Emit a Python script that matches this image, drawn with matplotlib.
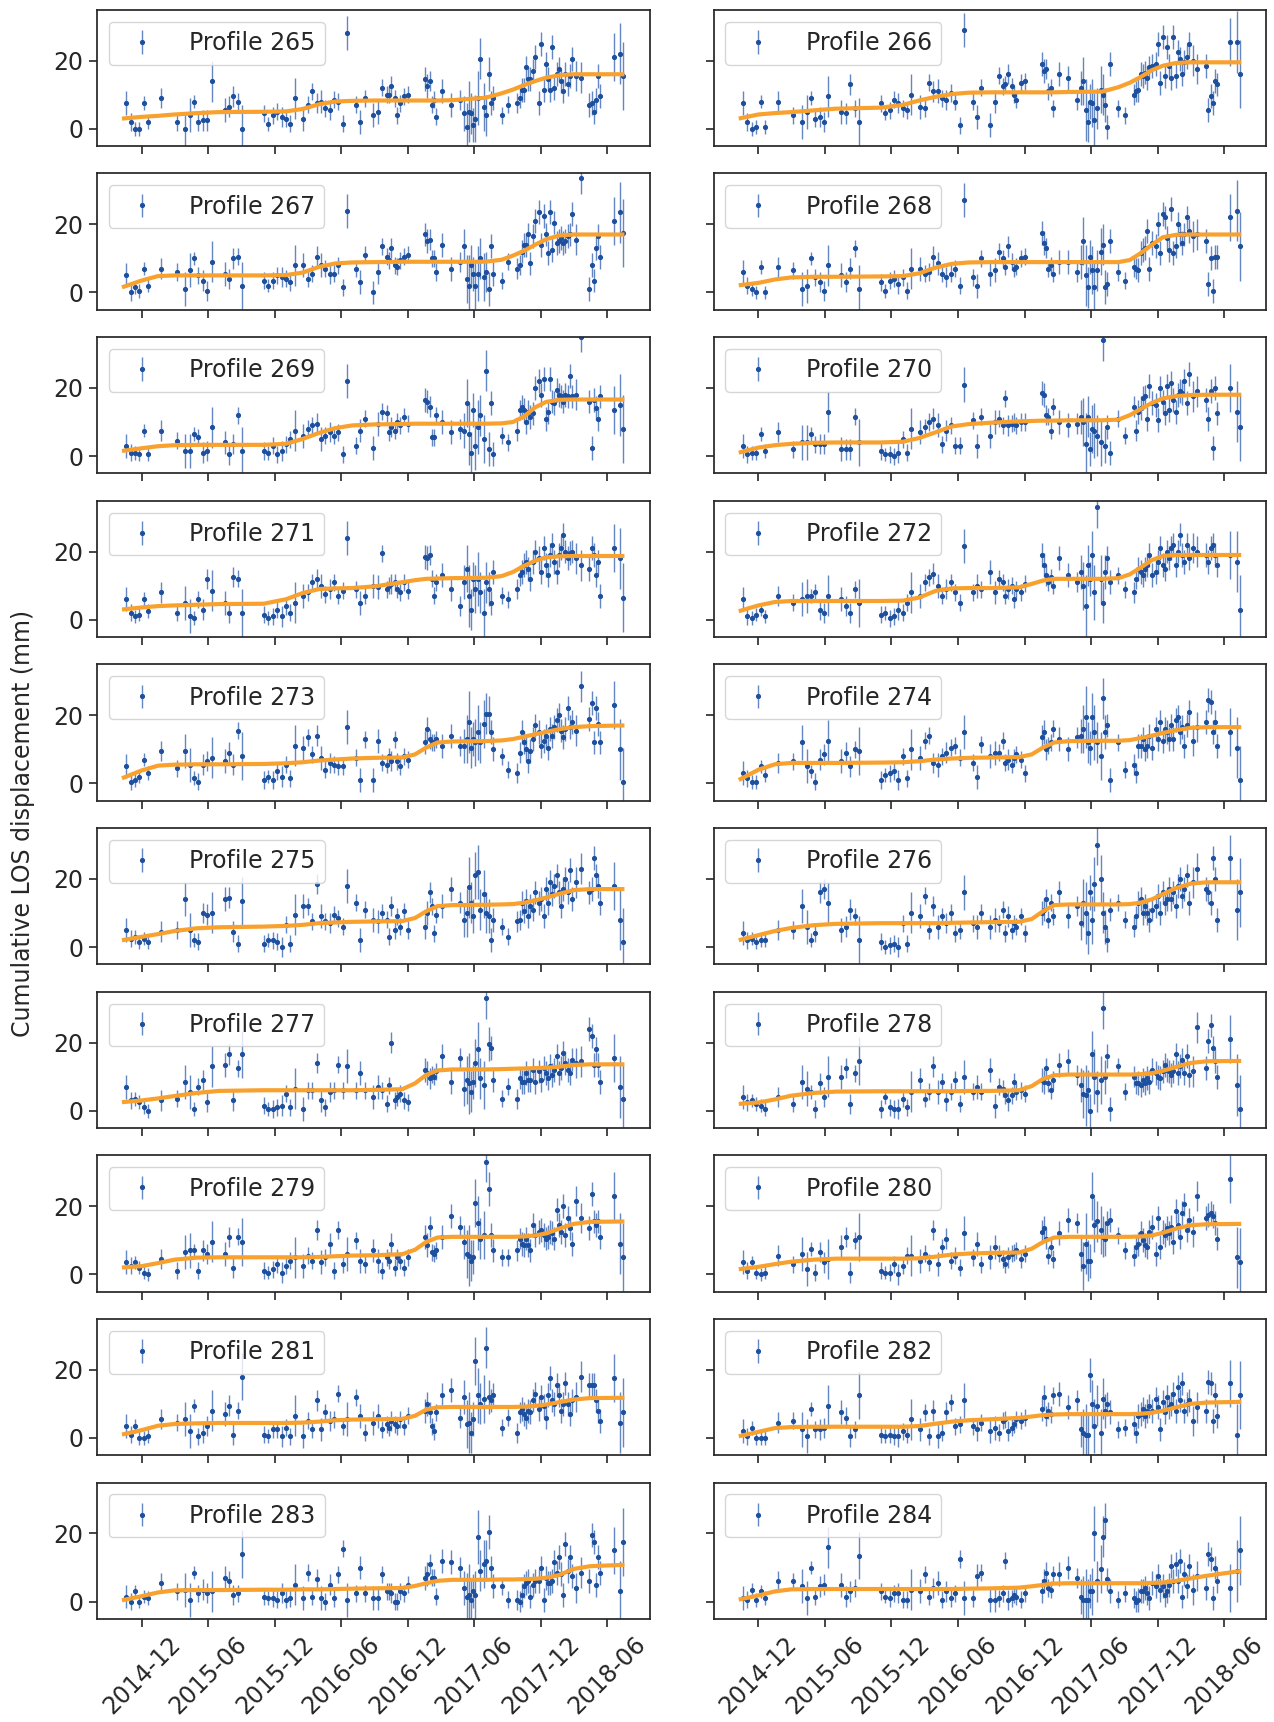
import numpy as np
import matplotlib
matplotlib.use("Agg")
import matplotlib.pyplot as plt
import matplotlib.dates as mdates

plt.rcParams['font.family'] = ['DejaVu Sans']

# acquisition dates (shared by all profiles)
dates = (["2014-10-20", "2014-11-01", "2014-11-13", "2014-11-25", "2014-12-07", "2014-12-19"]
         + ["2015-01-24", "2015-03-07", "2015-03-31", "2015-04-12", "2015-04-24", "2015-05-06", "2015-05-18", "2015-05-30", "2015-06-11"]
         + ["2015-07-17", "2015-07-29", "2015-08-10", "2015-08-22", "2015-09-03"]
         + ["2015-11-02", "2015-11-14", "2015-11-26", "2015-12-08", "2015-12-20", "2016-01-01", "2016-01-13", "2016-01-25"]
         + ["2016-02-18", "2016-03-01", "2016-03-13", "2016-03-25", "2016-04-06", "2016-04-18", "2016-04-30", "2016-05-12", "2016-05-24"]
         + ["2016-06-05", "2016-06-17", "2016-07-11", "2016-07-23", "2016-08-04", "2016-08-28", "2016-09-09", "2016-09-21",
            "2016-10-03", "2016-10-09", "2016-10-15", "2016-10-27", "2016-11-02", "2016-11-08", "2016-11-20", "2016-12-02"]
         + ["2017-01-17", "2017-01-23", "2017-01-29", "2017-02-04", "2017-02-10", "2017-02-16", "2017-03-05", "2017-03-30",
            "2017-04-23", "2017-05-05", "2017-05-11", "2017-05-17", "2017-05-23", "2017-05-29", "2017-06-04", "2017-06-10",
            "2017-06-16", "2017-06-28", "2017-07-04", "2017-07-10", "2017-07-16", "2017-07-22", "2017-08-15", "2017-09-02"]
         + ["2017-09-27", "2017-10-03", "2017-10-09", "2017-10-15", "2017-10-21", "2017-10-27", "2017-11-02", "2017-11-08",
            "2017-11-14", "2017-11-26", "2017-12-02", "2017-12-08", "2017-12-14", "2017-12-20", "2017-12-26"]
         + ["2018-01-01", "2018-01-07", "2018-01-13", "2018-01-19", "2018-01-25", "2018-01-31", "2018-02-06", "2018-02-12",
            "2018-02-18", "2018-02-24", "2018-03-08", "2018-03-20", "2018-04-13", "2018-04-19", "2018-04-25", "2018-05-01",
            "2018-05-07", "2018-05-13", "2018-06-18", "2018-07-06", "2018-07-15"])

# measurement uncertainty (mm), per acquisition
err = ([3.5, 2.5, 2, 2, 2, 2] + [3, 2.5, 5, 5, 2, 2.5, 3, 3, 6] + [3.5, 3, 3, 2.5, 7]
       + [2.5, 2, 2.5, 2.5, 3, 2.5, 2.5, 6] + [3.5, 2.5, 2.5, 3, 3.5, 2.5, 3, 2.5, 2.5]
       + [2.5, 5, 2.5, 3.5, 2.5, 3.5, 3.5, 2.5, 2.5, 2.5, 3, 2.5, 2.5, 2.5, 2.5, 2.5]
       + [3.5, 3.5, 3, 2.5, 2.5, 2.5, 3.5, 3.5, 3, 5, 7, 9, 6, 5, 7, 8, 6, 7, 6, 5, 3.5, 3.5, 2.5, 2.5]
       + [3, 3, 3.5, 3.5, 3.5, 3.5, 3.5, 3.5, 3.5, 3.5, 3.5, 3.5, 3.5, 3.5, 3.5]
       + [3.5, 3.5, 3.5, 3.5, 3.5, 3.5, 3.5, 3.5, 3.5, 3.5, 4.5, 4.5, 3.5, 3.5, 3.5, 3.5, 3.5, 3.5, 7, 9, 10])

# cumulative LOS displacement (mm) per profile
v265 = ([7.5, 2, 0, 0, 7.5, 2] + [9, 2, 0, 4, 8, 2, 2.5, 2.5, 14] + [5.5, 6.5, 9.5, 8, 0] + [4.5, 1.5, 4, 5, 3.5, 3, 1.5, 9]
        + [3, 7, 11, 7.5, 8, 6, 5.5, 8.5, 8] + [1.5, 28, 7, 2, 9, 4, 5, 12, 10, 10, 12.5, 9, 4, 7.5, 9.5, 10]
        + [14.5, 12.5, 14, 7, 8.5, 3.5, 11, 7, 8.5, 4.5, 0.5, 5, 4.5, 1, 3, 9, 20.5, 6.5, 4, 16, 7.5, 9, 4, 7]
        + [7.5, 9, 11.5, 11.5, 18, 14.5, 14.5, 17, 21, 7.5, 25, 11.5, 19, 14.5, 11.5]
        + [24, 12, 16, 17.5, 14, 11, 16, 13, 15.5, 20.5, 15.5, 15, 7, 7.5, 5, 8.5, 15.5, 9.5, 21, 22, 15.5])
v266 = ([7.5, 2, 0, 0.5, 8, 0.5] + [8, 4, 2, 5, 9, 3, 3.5, 2, 9.5] + [5, 4.5, 13, 6, 2] + [7.5, 4.5, 5.5, 8.5, 7.5, 6, 5.5, 10]
        + [6.5, 6, 13.5, 11, 11, 9, 8.5, 10.5, 8] + [1, 29, 8, 3.5, 12, 1, 8, 15.5, 12.5, 13, 16, 12.5, 10, 8.5, 13.5, 14]
        + [19, 17, 17.5, 11, 12, 6, 16, 15, 8.5, 12, 14, 5.5, 2, 8, 7.5, 2.5, 6, 11.5, 10, 7, 0.5, 19, 6, 4]
        + [10, 11, 11.5, 16, 15.5, 16.5, 15, 18, 18.5, 19, 25, 13.5, 27, 15.5, 24]
        + [18.5, 15, 27, 15.5, 22.5, 20.5, 16, 19.5, 21, 25, 20, 17.5, 18.5, 5.5, 9.5, 7.5, 14, 13, 25.5, 25.5, 16])
v267 = ([5, 0, 1.5, 0.5, 7, 2] + [7, 6, 1, 6.5, 10, 5, 3.5, 0.5, 9] + [5.5, 4, 10, 10.5, 2] + [3.5, 2, 3.5, 5, 4.5, 4, 3, 8]
        + [8, 4, 5.5, 10.5, 8, 7, 5.5, 5.5, 8] + [1.5, 24, 7, 3, 11, 0, 6, 13.5, 10.5, 9.5, 13, 8, 7.5, 9.5, 10.5, 11]
        + [17, 15, 15.5, 10, 10, 6, 14, 7, 9, 13.5, 4, 2, 8, 5.5, 2, 5.5, 10, 4.5, 6, 1, 13.5, 5.5, 3.5, 9]
        + [7, 8, 12, 14, 14, 17, 8.5, 16.5, 21, 23.5, 14, 22.5, 17, 11.5, 23.5]
        + [12.5, 20.5, 14.5, 15, 16, 14.5, 15, 16.5, 17, 23, 15.5, 33.5, 1, 8, 3.5, 13, 16.5, 10.5, 21, 23.5, 17.5])
v268 = ([6, 2, 1, 0, 7.5, 0] + [7.5, 6.5, 1, 2, 10, 4.5, 3, 0.5, 8] + [5, 3, 7, 13, 1] + [3, 0.5, 3.5, 4, 2.5, 4.5, 0.5, 7]
        + [7, 5.5, 6, 10.5, 8.5, 5.5, 4.5, 5.5, 7] + [2, 27, 4.5, 2, 10, 5.5, 6.5, 12, 10, 7.5, 13.5, 9, 7, 7.5, 10, 10.5]
        + [17.5, 14.5, 13, 7, 8, 5.5, 9, 9, 6, 9, 15, 5, 1.5, 10.5, 6.5, 1.5, 6.5, 12, 14, 1.5, 2.5, 15, 6, 3.5]
        + [7.5, 7, 6.5, 11.5, 12.5, 13, 18, 7, 14.5, 13.5, 20, 11.5, 23, 22, 16]
        + [12.5, 24.5, 11.5, 13.5, 20, 17, 14.5, 17, 22, 18, 16.5, 17, 15, 2.5, 10, 0.5, 10.5, 10.5, 22, 24, 13.5])
v269 = ([3, 1, 1, 0.5, 7.5, 0.5] + [7.5, 4.5, 1.5, 1.5, 6.5, 5.5, 1, 1.5, 8.5] + [4, 0.5, 3.5, 12, 1.5] + [1.5, 1, 3, 0.5, 1.5, 3.5, 5, 7.5]
        + [6, 8, 9, 9.5, 5, 6, 7, 6, 7] + [0.5, 22, 3, 7.5, 11, 2.5, 9.5, 13, 12.5, 7, 8.5, 7.5, 10, 9, 11.5, 9.5]
        + [16.5, 16, 14.5, 5.5, 5.5, 12, 10, 7, 8, 7.5, 15.5, 6.5, 1, 13.5, 3, 8.5, 12, 5, 25, 2, 15.5, 0.5, 6, 4]
        + [7.5, 13.5, 14.5, 13.5, 10, 13, 11.5, 12.5, 20, 22, 18, 22.5, 11, 13, 22.5]
        + [16, 15.5, 19.5, 18, 17.5, 16, 18, 17.5, 23.5, 17.5, 18, 35, 16, 2.5, 16.5, 14, 11, 17.5, 13.5, 15, 8])
v270 = ([3, 0.5, 1, 1, 6.5, 1.5] + [7, 2, 4, 4, 6.5, 3.5, 3.5, 3.5, 13] + [2, 2, 2, 11.5, 4] + [1.5, 0.5, 0.5, 0, 1, 5, 1, 8]
        + [7, 8.5, 10, 11, 9, 3.5, 7.5, 9, 3] + [3, 21, 10.5, 3, 11.5, 6, 10, 11, 9, 17, 9, 9.5, 10, 9, 10, 10]
        + [18.5, 18, 12, 11.5, 7.5, 14.5, 10, 9, 9.5, 11.5, 10, 3.5, 11.5, 2, 8, 7.5, 6, 4, 34, 3, 8.5, 1, 11, 6]
        + [14.5, 7.5, 13, 14, 17, 17.5, 11, 20.5, 15.5, 15, 10.5, 20, 16, 12.5, 20.5]
        + [13.5, 21.5, 16.5, 13, 18, 19, 18.5, 22, 15.5, 24, 17.5, 19, 16.5, 11, 19, 2.5, 20, 12.5, 20, 13, 8.5])
v271 = ([6, 2, 1, 1.5, 6, 2.5] + [8, 2, 5, 1, 0.5, 6, 3, 12, 8.5] + [5, 2, 12.5, 12, 2] + [1.5, 0.5, 1, 3, 1, 4, 2, 5]
        + [7, 8, 11, 12, 10, 7.5, 9, 11, 7] + [8.5, 24, 9, 5, 7, 10, 9.5, 19.5, 9, 10, 10.5, 11, 9, 8, 11, 8.5]
        + [18.5, 18, 19, 12, 7, 11, 13, 9, 4, 11, 15, 7, 3, 12, 9, 12, 8, 2, 11, 9, 5, 14, 7, 6]
        + [9, 13, 14, 16, 17, 15, 12, 17, 20, 18, 14, 21, 16, 13, 19]
        + [22, 17, 14, 19, 21, 25, 20, 18, 19.5, 20, 18, 16, 15, 21, 19, 13, 17, 7, 21, 18, 6.5])
v272 = ([6, 1, 0.5, 1.5, 3, 1] + [7, 5, 6, 7, 7, 8, 3, 2, 7] + [6, 4, 2, 9, 5] + [1.5, 2, 0.5, 1, 3, 2, 5, 8]
        + [7, 11, 12.5, 13.5, 10, 7, 9, 11, 8] + [5, 21.5, 8, 10, 9, 14, 8, 12, 11, 7, 9, 10, 6, 9, 8, 10.5]
        + [19, 16, 13, 11, 12.5, 10, 18, 13, 11, 14, 10, 4, 16, 12, 19, 8, 33, 12, 5, 14, 18, 11, 13, 9]
        + [8, 12, 15, 14, 13, 15, 16, 19, 13, 14, 17, 21, 16, 15, 20]
        + [18, 21, 22, 16, 20, 25, 19, 17, 22, 18, 21, 20, 19, 17, 21, 22, 19, 16, 19, 17, 3])
v273 = ([5, 0.5, 1, 2, 7, 3] + [9.5, 4.5, 9.5, 5.5, 1.5, 0.5, 5.5, 6.5, 7.5] + [6.5, 9, 5.5, 15.5, 8] + [1, 2, 1, 3.5, 2, 5.5, 1.5, 11]
        + [10.5, 13.5, 8.5, 14, 7.5, 4, 6, 5.5, 5] + [5, 16.5, 7.5, 1, 13, 1, 12.5, 6, 5.5, 8, 6.5, 13, 6.5, 5, 8, 7]
        + [12, 16, 13, 12, 12, 13, 11, 14, 11, 11, 13, 18, 10.5, 13, 12, 15, 12, 17.5, 20.5, 20.5, 15, 10, 8, 4]
        + [3, 9, 15, 12, 10, 6.5, 9.5, 13, 17, 15, 11, 12.5, 14, 10.5, 16]
        + [14, 16.5, 18.5, 20, 15.5, 13.5, 16, 22, 16.5, 18, 15.5, 28.5, 19, 23.5, 12, 22, 17.5, 12, 23, 10, 0.5])
v274 = ([3, 1.5, 0.5, 0.5, 5, 2.5] + [6, 6.5, 12, 5, 3.5, 0.5, 7, 8.5, 12.5] + [6.5, 9, 5, 10, 9.5] + [1, 2.5, 3, 3.5, 1, 8, 1.5, 10]
        + [7.5, 12.5, 14, 6, 5.5, 8, 9, 10.5, 11] + [7.5, 15, 6, 2, 11.5, 8, 9, 9, 12.5, 6, 7, 5.5, 7.5, 8.5, 7, 3]
        + [13.5, 15, 10, 11, 12, 16, 13, 10, 13.5, 14, 16, 19.5, 12, 10.5, 19.5, 15, 12, 8, 25, 15, 17, 1, 12, 4]
        + [5.5, 3, 11, 11, 13, 10, 11, 14, 10.5, 16, 13, 18, 12.5, 16, 15]
        + [13, 17, 13, 18.5, 19.5, 15, 16.5, 11, 17, 21, 12.5, 16.5, 18, 24.5, 24, 15, 18, 11, 15, 10.5, 1])
v275 = ([5, 2.5, 3, 1.5, 2.5, 1.5] + [4.5, 5, 14, 5, 2, 1.5, 10, 9.5, 10] + [14, 14.5, 4.5, 1, 13.5] + [1, 2, 2, 1.5, 0, 6.5, 1, 9.5]
        + [12, 12, 7.5, 18.5, 9, 7.5, 7, 9.5, 8.5] + [6, 18, 13, 2, 11, 8, 7.5, 10, 8, 3, 12, 5, 9, 6, 10.5, 5]
        + [6, 10, 16, 12, 4, 9.5, 12, 17, 13, 8, 10, 17.5, 13, 9, 21, 22, 11, 15.5, 10, 9, 2, 8, 6, 3]
        + [7.5, 8, 13, 10.5, 13.5, 9, 12, 11, 16, 13, 14, 9, 17, 13, 19]
        + [15.5, 18, 21, 16, 12, 17, 20, 16, 22.5, 14, 19, 23, 16, 17, 26, 21, 18, 13, 18, 8, 1.5])
v276 = ([4, 2, 2.5, 1.5, 2, 2] + [5, 5, 12, 6, 2, 4, 16, 17, 13] + [5, 6, 11, 9, 2] + [1.5, 0, 0.5, 1, 0, 7, 1, 10]
        + [9, 15, 5, 12, 6, 9, 7, 10, 4] + [5, 16, 7, 6, 10, 6, 8, 7, 11, 4, 9, 5, 7, 6, 9, 4]
        + [10, 11, 14, 8, 13, 9, 16, 9, 12, 7, 13, 10, 4, 16, 8, 18.5, 30, 20, 10, 6, 2, 11, 13, 8]
        + [6, 9, 13, 14, 10, 12, 10, 8, 11, 12, 15, 10, 16, 13, 14]
        + [17, 14, 16, 12, 18, 20, 15, 17, 21, 13, 19, 23, 17, 16, 13, 26, 20, 8, 26, 11, 16])
v277 = ([7, 3, 3.5, 2.5, 1, 0] + [3, 3.5, 8.5, 5.5, 0.5, 7, 9, 2.5, 13] + [13.5, 16.5, 3, 12.5, 16.5] + [1.5, 0.5, 0.5, 1, 1.5, 5, 1, 6.5]
        + [0.5, 6, 6, 14, 3, 1, 5.5, 6, 13.5] + [6, 13, 6, 11, 6, 4, 7, 6, 2, 7.5, 20, 3, 4, 5, 3, 2.5]
        + [12, 11, 9.5, 10.5, 10, 11.5, 16, 8.5, 15.5, 6.5, 9, 8, 5.5, 8.5, 14, 18, 9.5, 7.5, 33, 19.5, 18.5, 9, 3.5, 7]
        + [3.5, 9.5, 8.5, 8.5, 11, 9, 9, 12, 8.5, 11.5, 9, 12.5, 11, 9.5, 13]
        + [10.5, 12, 16, 11, 12.5, 17, 14, 12, 11, 15, 14, 14.5, 24, 22, 13.5, 18, 13.5, 8.5, 15.5, 7, 3.5])
v278 = ([4, 2.5, 3, 2, 1.5, 0.5] + [4, 2, 8.5, 6.5, 5.5, 0.5, 8, 4, 10] + [10, 12.5, 2, 11, 14.5] + [0.5, 4, 1, 0.5, 0.5, 3.5, 1, 5.5]
        + [9, 3.5, 5.5, 13, 5.5, 8.5, 3, 5.5, 9] + [2, 10, 5.5, 7, 5.5, 12, 1.5, 7, 6.5, 4.5, 3, 4.5, 8.5, 5.5, 6, 5]
        + [9, 8.5, 12.5, 8, 6, 9, 13.5, 14.5, 10.5, 7.5, 5, 4.5, 6, 0, 16.5, 10, 5.5, 9, 30, 10, 16, 0.5, 13, 5.5]
        + [10, 8, 8, 7.5, 9, 8, 9.5, 8.5, 12, 11, 10, 9.5, 11.5, 13.5, 12]
        + [11.5, 10.5, 11.5, 16.5, 11, 13, 15, 11, 16, 10.5, 11.5, 24.5, 12.5, 20.5, 25, 18.5, 14.5, 10, 21, 7.5, 0.5])
v279 = ([3.5, 2.5, 3.5, 2, 0.5, 0] + [4.5, 1, 6.5, 7, 7, 1, 7, 6, 9.5] + [6, 11, 2, 11, 9.5] + [1, 0.5, 1.5, 3, 0.5, 2.5, 4, 5]
        + [2.5, 5.5, 4, 13, 3.5, 5, 9, 1, 13] + [3, 6, 10, 4, 3, 7, 4, 1, 5, 4, 9, 2, 5, 4, 2, 5]
        + [11, 8.5, 14, 6.5, 6, 7, 11, 17, 14, 9.5, 6, 5.5, 4, 5, 21, 15, 10.5, 11.5, 33, 25, 11.5, 7, 5, 5]
        + [7, 10.5, 9, 8.5, 10.5, 8.5, 7, 14.5, 11.5, 12.5, 13, 11.5, 10.5, 11, 12.5]
        + [12, 10.5, 19, 14.5, 12.5, 20, 11.5, 16.5, 13.5, 9, 21.5, 16.5, 13.5, 23.5, 15.5, 14.5, 15.5, 11, 23, 9, 5])
v280 = ([3.5, 1, 3.5, 0.5, 0, 0.5] + [5.5, 3, 6, 1.5, 7.5, 0.5, 6.5, 3.5, 4.5] + [8, 11, 0.5, 10, 11] + [1, 0.5, 0.5, 3, 0, 2.5, 5.5, 5.5]
        + [4, 6, 3.5, 13, 3, 8, 10.5, 4, 5.5] + [2, 12, 5, 9, 3, 5, 8, 6, 4.5, 3, 5, 6, 6.5, 7, 4.5, 6]
        + [12.5, 13.5, 10.5, 5.5, 8, 4.5, 12, 16, 15, 6, 2.5, 9, 4, 4, 23, 14.5, 15.5, 13, 11, 10.5, 15, 16, 11.5, 7]
        + [5.5, 8, 9, 12, 10, 8.5, 8, 12.5, 14, 6, 16.5, 8, 12.5, 11.5, 13.5]
        + [12, 14, 9.5, 18.5, 14.5, 11, 18, 20.5, 13, 16, 12.5, 23, 16.5, 17.5, 18, 17, 15, 10.5, 28, 5, 3.5])
v281 = ([3.5, 1, 3.5, 0, 0, 0.5] + [5.5, 4.5, 5.5, 2, 9.5, 0.5, 1.5, 3.5, 8] + [7, 9.5, 1, 8, 18] + [1, 0.5, 2.5, 2.5, 0.5, 3, 0.5, 6.5]
        + [0.5, 5, 2.5, 11, 2.5, 7.5, 5, 5.5, 13] + [3.5, 5.5, 12, 6.5, 1.5, 4.5, 6.5, 2.5, 4, 3, 5, 4, 3.5, 5.5, 3.5, 6.5]
        + [8, 10, 7.5, 3.5, 2, 7.5, 12.5, 14, 6, 12, 4, 4.5, 1.5, 5.5, 22.5, 12.5, 10, 11.5, 26.5, 12, 11, 12.5, 3, 6]
        + [1.5, 7.5, 8.5, 7, 6, 8, 7.5, 11, 13, 8.5, 12, 9.5, 6, 12.5, 17.5]
        + [11, 10, 15.5, 12.5, 8, 10, 16, 10, 7, 11, 12, 18, 15.5, 15.5, 15.5, 11, 8, 5, 17.5, 4.5, 7.5])
v282 = ([2, 0.5, 3, 0, 0, 0] + [4.5, 5, 2.5, 0.5, 8.5, 2.5, 2.5, 3, 9.5] + [7.5, 6, 0.5, 2.5, 12.5] + [1, 0.5, 1, 0.5, 0.5, 2, 1, 5.5]
        + [2.5, 7.5, 0.5, 8, 0.5, 1.5, 7.5, 10.5, 3.5] + [4, 11, 3.5, 2.5, 4.5, 2, 3, 1.5, 5, 5.5, 2, 3, 4, 5.5, 5, 6]
        + [8.5, 12, 6.5, 8, 7, 12.5, 13, 9, 11, 2.5, 1.5, 1, 1, 18.5, 10, 3.5, 9.5, 1.5, 11.5, 8, 10, 7.5, 2.5, 3]
        + [4, 1.5, 6.5, 7, 8.5, 6.5, 8, 9.5, 8, 11.5, 9, 2.5, 10.5, 7.5, 12]
        + [9, 10, 13, 8, 15, 11, 16, 8, 10, 11, 5, 9, 8, 16.5, 16, 5, 12.5, 6.5, 16, 1, 12.5])
v283 = ([1.5, 0, 3, 0, 1.5, 1] + [5.5, 3, 3.5, 0.5, 8.5, 2.5, 3.5, 2.5, 3] + [7, 6, 2, 2.5, 14] + [1.5, 1, 1, 0.5, 2.5, 0.5, 1, 5]
        + [1, 8.5, 1.5, 6.5, 1, 0, 5, 1, 8] + [15.5, 0.5, 2.5, 10, 2.5, 1, 1, 8, 3, 3, 2.5, 0, 0, 3, 2.5, 5]
        + [7, 8, 11, 7, 7, 1.5, 12, 11.5, 10, 4, 1.5, 2, 0.5, 3, 2, 19, 9, 11, 12, 20.5, 10, 4.5, 4.5, 0.5]
        + [0.5, 0, 2, 4.5, 5.5, 6, 1.5, 5, 6, 6, 10, 0.5, 7, 5.5, 5.5]
        + [6, 11.5, 8.5, 13, 8, 2, 17, 9, 13, 7.5, 4, 8.5, 6, 19.5, 17.5, 5, 13, 8.5, 15, 3, 17.5])
v284 = ([1, 0.5, 3.5, 0.5, 3, 1] + [6, 6, 4.5, 1, 10, 1.5, 4.5, 5, 16] + [5, 1.5, 3, 4, 13.5] + [3, 1.5, 1, 2.5, 2.5, 0.5, 0.5, 3.5]
        + [3, 8, 1.5, 4, 5.5, 0.5, 3, 1, 2.5] + [12.5, 1, 1, 7.5, 8.5, 0.5, 0.5, 1, 2.5, 12, 0.5, 1, 2, 1.5, 0.5, 2.5]
        + [3, 6, 8.5, 4, 3.5, 8, 8, 10, 7, 1.5, 0.5, 0.5, 0.5, 3, 3, 20, 6, 9.5, 19, 24, 6.5, 3, 0.5, 2.5]
        + [1, 0, 0.5, 3, 3, 4, 2.5, 1, 5.5, 4.5, 7.5, 3.5, 4.5, 2, 3]
        + [5, 10.5, 6, 11, 6, 12, 1.5, 8, 4.5, 10.5, 3.5, 7.5, 4, 14, 12.5, 1, 10, 6, 4, 9, 15])

# fitted model (orange) sampled at these dates
fit_dates = ["2014-10-08", "2014-12-01", "2015-01-15", "2015-03-01", "2015-05-01", "2015-07-01", "2015-11-01",
             "2016-01-01", "2016-02-15", "2016-04-01", "2016-05-15", "2016-07-01", "2016-09-01", "2016-11-15",
             "2016-12-20", "2017-01-20", "2017-02-20", "2017-04-01", "2017-07-01", "2017-08-15", "2017-09-15",
             "2017-10-15", "2017-11-15", "2017-12-15", "2018-01-20", "2018-03-01", "2018-04-15", "2018-07-18"]
f265 = [3, 3.5, 3.8, 4.2, 4.6, 4.9, 5, 5.1, 5.8, 7.2, 8, 8.2, 8.3, 8.3, 8.3, 8.3, 8.3, 8.4, 9.1, 10.4, 11.5, 12.8, 14, 15, 15.7, 16, 16, 16]
f266 = [3, 4.2, 4.6, 4.9, 5.4, 5.9, 6.2, 7, 8.3, 9.4, 10.2, 10.6, 10.7, 10.7, 10.7, 10.7, 10.7, 10.8, 10.9, 12.2, 13.5, 15.2, 17.2, 18.5, 19.3, 19.5, 19.5, 19.5]
f267 = [1.5, 3.5, 4.8, 5, 5, 5, 5, 5.1, 5.8, 7.5, 8.5, 8.8, 8.9, 9, 9, 9, 9, 9, 9, 9.6, 10.8, 12.2, 14, 15.6, 16.7, 17, 17, 17]
f268 = [2.1, 2.8, 3.8, 4.4, 4.6, 4.6, 4.7, 4.8, 5.6, 7.3, 8.4, 8.8, 8.9, 8.9, 8.9, 8.9, 8.9, 8.9, 8.9, 8.9, 9.5, 11.5, 14, 16.2, 16.9, 17, 17, 17]
f269 = [1.5, 2.3, 2.9, 3.2, 3.3, 3.3, 3.3, 3.6, 5, 6.8, 8.2, 9, 9.3, 9.4, 9.5, 9.5, 9.5, 9.5, 9.5, 9.6, 10, 11.6, 14.3, 15.9, 16.5, 16.6, 16.6, 16.6]
f270 = [1, 2.5, 3.2, 3.6, 3.9, 4, 4, 4.2, 5.3, 7, 8.7, 9.4, 9.8, 10.2, 10.3, 10.4, 10.4, 10.5, 10.5, 10.7, 12, 13.8, 15.6, 16.9, 17.6, 17.9, 18, 18]
f271 = [3, 3.6, 4, 4.2, 4.4, 4.6, 4.7, 6, 7.8, 9, 9.2, 9.3, 9.8, 11, 11.6, 12, 12.1, 12.2, 12.3, 12.8, 14, 15.8, 17.3, 18.3, 18.6, 18.7, 18.7, 18.7]
f272 = [2.5, 4.2, 5.2, 5.5, 5.5, 5.5, 5.5, 5.6, 6.5, 8.5, 9.2, 9.3, 9.3, 9.5, 10.5, 11.5, 12, 12, 12, 12.2, 13.3, 15.3, 17.5, 18.7, 19, 19, 19, 19]
f273 = [1.5, 3.8, 5.2, 5.5, 5.6, 5.6, 5.7, 5.9, 6.2, 6.7, 7, 7.3, 7.5, 7.6, 8.5, 10.5, 12, 12.3, 12.4, 12.6, 13, 13.7, 14.4, 15.1, 15.9, 16.5, 16.8, 17]
f274 = [1, 4, 5.6, 6, 6, 6, 6.1, 6.2, 6.5, 7, 7.3, 7.5, 7.6, 7.7, 8.5, 10.5, 12, 12.4, 12.5, 12.5, 12.7, 13.3, 14, 14.8, 15.6, 16.3, 16.5, 16.5]
f275 = [2, 3, 3.8, 4.7, 5.5, 5.8, 6, 6.2, 6.5, 7, 7.2, 7.4, 7.5, 7.6, 8.5, 10.5, 12, 12.3, 12.4, 12.5, 12.6, 13, 13.7, 14.5, 15.6, 16.7, 17, 17]
f276 = [2, 3.5, 4.7, 5.6, 6.4, 6.8, 7, 7, 7, 7, 7.1, 7.2, 7.3, 7.4, 8.2, 10.5, 12.3, 12.5, 12.5, 12.5, 12.6, 13, 14, 15.5, 17.3, 18.6, 19, 19]
f277 = [2.5, 3, 3.6, 4.3, 5.2, 5.8, 6, 6, 6, 6, 6, 6, 6.1, 6.3, 8, 10.5, 11.8, 12.1, 12.1, 12.2, 12.3, 12.4, 12.5, 12.6, 12.9, 13.4, 13.6, 13.6]
f278 = [2, 2.4, 3.3, 4.4, 5.2, 5.6, 5.7, 5.7, 5.7, 5.7, 5.7, 5.8, 5.8, 6, 7.2, 9.3, 10.4, 10.6, 10.6, 10.6, 10.6, 10.7, 11, 11.7, 12.8, 14, 14.5, 14.6]
f279 = [2, 2.4, 3.3, 4.3, 4.9, 5, 5, 5, 5, 5.1, 5.3, 5.5, 5.6, 5.9, 7.2, 9.5, 10.8, 11, 11, 11, 11, 11.1, 11.4, 12, 13.4, 14.8, 15.4, 15.5]
f280 = [1.5, 2.2, 3, 3.7, 4.3, 4.6, 4.6, 4.6, 4.7, 5.2, 5.8, 6.1, 6.3, 6.4, 7.5, 9.5, 10.8, 11, 11, 11, 11, 11.1, 11.4, 12.2, 13.4, 14.4, 14.7, 14.8]
f281 = [1, 2.3, 3.6, 4.1, 4.3, 4.4, 4.4, 4.4, 4.5, 4.8, 5.2, 5.4, 5.5, 5.6, 6.5, 8.3, 9, 9.1, 9.1, 9.1, 9.1, 9.2, 9.4, 9.8, 10.5, 11.3, 11.7, 11.8]
f282 = [0.5, 1.8, 2.9, 3.2, 3.3, 3.3, 3.3, 3.3, 3.5, 4.2, 4.8, 5.2, 5.5, 5.9, 6.3, 6.7, 6.9, 7, 7, 7, 7, 7.1, 7.4, 8, 9, 10, 10.4, 10.6]
f283 = [0.4, 1.6, 2.7, 3.3, 3.4, 3.4, 3.5, 3.5, 3.6, 3.6, 3.7, 3.8, 3.9, 4, 4.6, 5.4, 6.1, 6.4, 6.4, 6.5, 6.5, 6.6, 6.7, 7, 7.8, 9.6, 10.4, 10.8]
f284 = [0.6, 1.8, 3, 3.6, 3.7, 3.7, 3.7, 3.7, 3.7, 3.7, 3.7, 3.8, 3.9, 4.1, 4.5, 4.9, 5.3, 5.4, 5.4, 5.4, 5.4, 5.4, 5.5, 5.6, 6.1, 6.8, 7.6, 9]

profiles = list(range(265, 285))
values = [v265, v266, v267, v268, v269, v270, v271, v272, v273, v274,
          v275, v276, v277, v278, v279, v280, v281, v282, v283, v284]
fits = [f265, f266, f267, f268, f269, f270, f271, f272, f273, f274,
        f275, f276, f277, f278, f279, f280, f281, f282, f283, f284]
tick_labels = ["0", "20"]

t = np.array(dates, dtype="datetime64[D]")
tf = np.array(fit_dates, dtype="datetime64[D]")
e = np.array(err, dtype=float)

FS = 17
BLUE = "#1d4f9f"
ORANGE = "#f9a12e"

fig, axes = plt.subplots(10, 2, figsize=(12.74, 17.22), dpi=100, sharex=True, sharey=True)
fig.subplots_adjust(left=0.076, right=0.994, top=0.9943, bottom=0.0598, hspace=0.2, wspace=0.1158)

for k, (p, vals, fit) in enumerate(zip(profiles, values, fits)):
    ax = axes[k // 2, k % 2]
    n = min(len(t), len(vals), len(e))
    ax.errorbar(t[:n], vals[:n], yerr=e[:n], fmt="o", ms=2.7, color=BLUE,
                ecolor=(0.13, 0.33, 0.66, 0.7), elinewidth=1.0, capsize=0,
                label=f"Profile {p}", zorder=2)
    m = min(len(tf), len(fit))
    ax.plot(tf[:m], fit[:m], color=ORANGE, lw=3.0, solid_joinstyle="round",
            solid_capstyle="butt", zorder=3)
    ax.set_ylim(-5.1, 34.9)
    ax.set_yticks([0, 20])
    ax.set_yticklabels(tick_labels)
    ax.set_xlim(np.datetime64("2014-07-31"), np.datetime64("2018-09-25"))
    ax.xaxis.set_major_locator(mdates.MonthLocator(bymonth=[6, 12]))
    ax.xaxis.set_major_formatter(mdates.DateFormatter("%Y-%m"))
    ax.tick_params(axis="both", labelsize=FS, direction="out", length=6, width=1.2,
                   colors="#262626", top=False, right=False)
    for s in ax.spines.values():
        s.set_linewidth(1.25)
        s.set_color("#262626")
    leg = ax.legend(loc="upper left", fontsize=FS, frameon=True, fancybox=True,
                    framealpha=0.8, edgecolor="0.8", handletextpad=1.0)
    for txt in leg.get_texts():
        txt.set_color("#262626")

for ax in axes[-1, :]:
    for lab in ax.get_xticklabels():
        lab.set_rotation(45)
        lab.set_ha("center")

fig.text(0.018, 0.522, "Cumulative LOS displacement (mm)", rotation=90,
         va="center", ha="center", fontsize=FS, color="#262626")

fig.savefig("out.png", dpi=100)
